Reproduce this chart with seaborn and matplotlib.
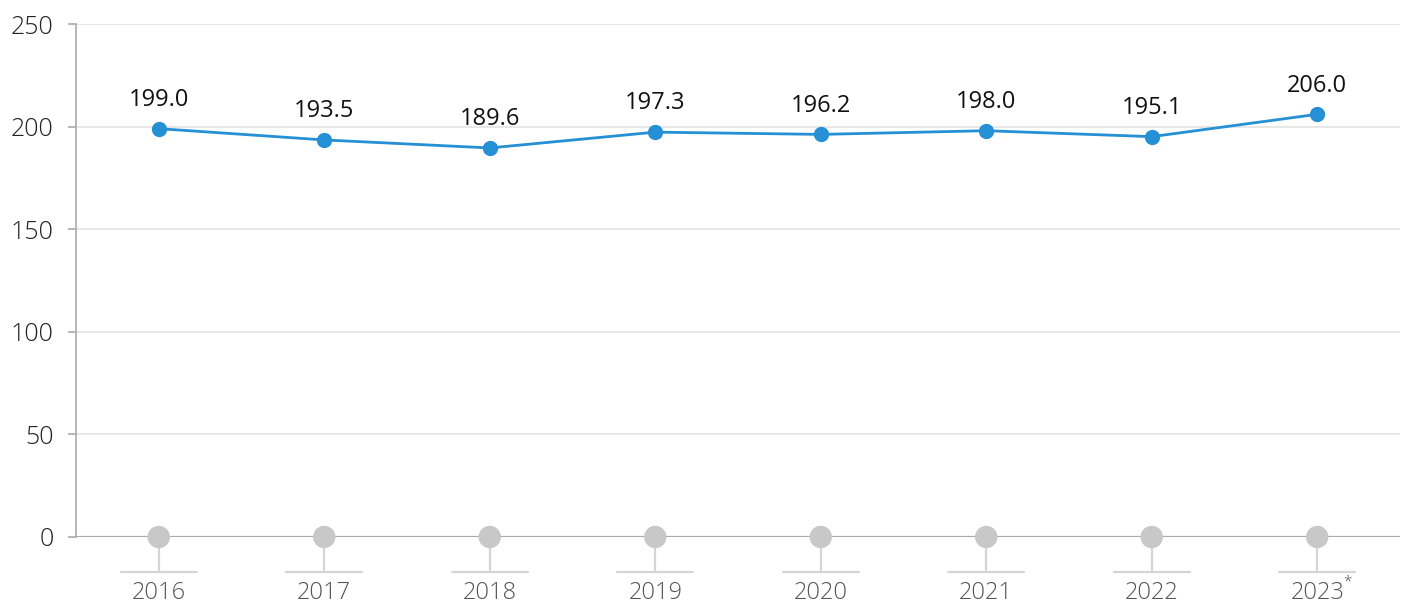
import numpy as np
import pandas as pd
import matplotlib
matplotlib.use("Agg")
import matplotlib.pyplot as plt
import matplotlib.transforms as mtransforms
import seaborn as sns

years = ["2016", "2017", "2018", "2019", "2020", "2021", "2022", "2023"]
footnote_year = "2023"
values = [199.0, 193.5, 189.6, 197.3, 196.2, 198.0, 195.1, 206.0]

df = pd.DataFrame({"pos": np.arange(len(years)), "year": years, "value": values})

sns.set_style("white")
plt.rcParams["font.family"] = ["Open Sans", "DejaVu Sans"]

fig = plt.figure(figsize=(14.09, 6.06), dpi=100)
ax = fig.add_axes([76 / 1409, 69 / 606, 1324 / 1409, 513 / 606])

# grid
for v in [50, 100, 150, 200, 250]:
    ax.axhline(v, color="#e3e3e3", lw=1.2, zorder=0)

# baseline at zero
ax.axhline(0, color="#aaaaaa", lw=1.6, zorder=1)

# grey dots on the baseline
sns.scatterplot(data=df, x="pos", y=np.zeros(len(df)), ax=ax, color="#c8c8c8",
                s=260, edgecolor="none", zorder=3, clip_on=False, legend=False)

# main series
sns.lineplot(data=df, x="pos", y="value", ax=ax, color="#2590d3", lw=2,
             marker="o", markersize=11, markeredgewidth=0, zorder=4)

for x, v in zip(df["pos"], df["value"]):
    ax.annotate(f"{v:.1f}", (x, v), xytext=(0, 12), textcoords="offset points",
                ha="center", va="bottom", fontsize=17, color="#111111")

# tick decoration under each category
trans = mtransforms.blended_transform_factory(ax.transData, ax.transAxes)
yb = -35 / 513
for x in df["pos"]:
    ax.plot([x, x], [0, yb], color="#d5d5d5", lw=1.6, transform=trans,
            clip_on=False, zorder=2)
    ax.plot([x - 0.23, x + 0.23], [yb, yb], color="#d5d5d5", lw=1.6,
            transform=trans, clip_on=False, zorder=2)

ax.set_xlim(-0.5, 7.5)
ax.set_ylim(0, 250)
ax.set_yticks([0, 50, 100, 150, 200, 250])
ax.set_xticks(df["pos"])
ax.set_xticklabels(years)
ax.tick_params(axis="x", length=0, pad=32, labelsize=17, labelcolor="#555555")
ax.tick_params(axis="y", length=6, width=1.2, color="#aaaaaa", pad=10,
               labelsize=18, labelcolor="#222222", left=True)
for lab in ax.get_yticklabels() + ax.get_xticklabels():
    lab.set_fontweight("light")
ax.set_xlabel("")
ax.set_ylabel("")

# asterisk on the last year
last = years.index(footnote_year)
ax.annotate("*", (last, 0), xycoords=trans, xytext=(19, -38),
            textcoords="offset points", ha="left", va="bottom",
            fontsize=11, color="#555555", fontweight="light")

for s in ["top", "right", "bottom"]:
    ax.spines[s].set_visible(False)
ax.spines["left"].set_color("#aaaaaa")
ax.spines["left"].set_linewidth(1.2)

fig.savefig("out.png", dpi=100)
